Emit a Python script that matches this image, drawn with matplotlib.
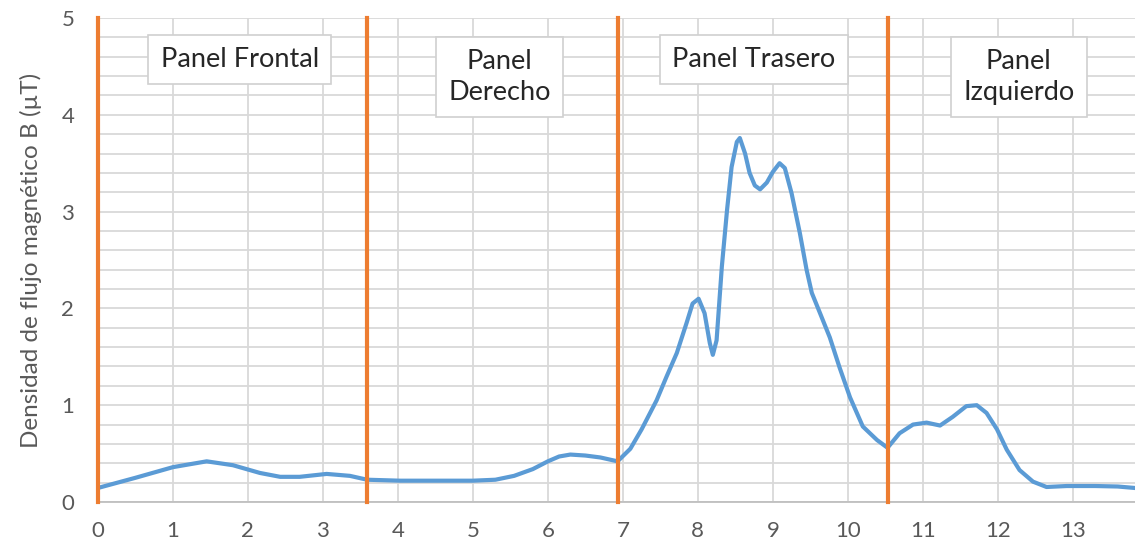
import matplotlib.pyplot as plt
import numpy as np

# lecturas del sensor a lo largo del recorrido
dist = [0, 0.5, 1.0, 1.45, 1.8, 2.16, 2.43, 2.69, 3.05, 3.36, 3.59, 4.03, 4.47, 5.0,
        5.3, 5.55, 5.8, 6.0, 6.15, 6.3, 6.5, 6.7, 6.93, 7.1, 7.25, 7.45, 7.58,
        7.72, 7.85, 7.93, 8.01, 8.09, 8.16, 8.2, 8.25, 8.32, 8.39, 8.45, 8.52,
        8.56, 8.63, 8.69, 8.76, 8.83, 8.92, 9.0, 9.09, 9.16, 9.25, 9.36, 9.45,
        9.52, 9.63, 9.76, 9.89, 10.03, 10.2, 10.39, 10.53, 10.69, 10.87, 11.05,
        11.23, 11.4, 11.58, 11.72, 11.85, 11.99, 12.12, 12.29, 12.47, 12.65,
        12.92, 13.3, 13.6, 13.9]
campo = [0.145, 0.25, 0.36, 0.42, 0.38, 0.30, 0.26, 0.26, 0.29, 0.27, 0.23, 0.22,
         0.22, 0.22, 0.23, 0.27, 0.34, 0.42, 0.47, 0.49, 0.48, 0.46, 0.42, 0.55,
         0.75, 1.05, 1.29, 1.54, 1.85, 2.05, 2.10, 1.95, 1.64, 1.52, 1.67, 2.43,
         3.02, 3.46, 3.72, 3.76, 3.60, 3.40, 3.27, 3.23, 3.30, 3.41, 3.50, 3.45,
         3.19, 2.78, 2.40, 2.16, 1.95, 1.70, 1.39, 1.08, 0.78, 0.64, 0.56, 0.71,
         0.80, 0.82, 0.79, 0.88, 0.99, 1.00, 0.92, 0.75, 0.54, 0.33, 0.21, 0.155,
         0.165, 0.165, 0.16, 0.14]

limites = [0, 3.59, 6.93, 10.53]
paneles = ['Panel Frontal', 'Panel\nDerecho', 'Panel Trasero', 'Panel\nIzquierdo']
pos_x = [1.89, 5.36, 8.75, 12.28]
pos_y = [4.57, 4.39, 4.57, 4.39]

plt.rcParams['font.family'] = ['Lato', 'DejaVu Sans']
fig = plt.figure(figsize=(11.35, 5.46), dpi=100)
ax = fig.add_axes([0.0863, 0.0806, 0.9137, 0.8864])

ax.set_xlim(0, 13.83)
ax.set_ylim(0, 5)
ax.set_xticks(range(0, 14))
ax.set_yticks(range(0, 6))
ax.set_yticks(np.arange(0, 5.01, 0.2), minor=True)
ax.grid(True, which='major', color='#d9d9d9', linewidth=1.3)
ax.grid(True, which='minor', axis='y', color='#d9d9d9', linewidth=1.3)
ax.tick_params(which='both', length=0, labelsize=16, colors='#595959')
ax.tick_params(axis='x', pad=14)
ax.tick_params(axis='y', pad=17)
for s in ['top', 'right', 'left']:
    ax.spines[s].set_visible(False)
ax.spines['bottom'].set_color('#bfbfbf')
ax.spines['bottom'].set_linewidth(1.3)

ax.plot(dist, campo, color='#5B9BD5', linewidth=3, solid_capstyle='round',
        solid_joinstyle='round', zorder=3)
for x in limites:
    ax.axvline(x, color='#ED7D31', linewidth=3, zorder=4, clip_on=False)

for x, y, t in zip(pos_x, pos_y, paneles):
    ax.text(x, y, t, ha='center', va='center', fontsize=19.5, color='#262626',
            linespacing=1.3,
            bbox=dict(boxstyle='square,pad=0.45', fc='white', ec='#d0d0d0', lw=1.2),
            zorder=5)

ax.set_ylabel('Densidad de flujo magnético B (µT)', fontsize=17.5, color='#595959', labelpad=14)
fig.savefig('out.png')
